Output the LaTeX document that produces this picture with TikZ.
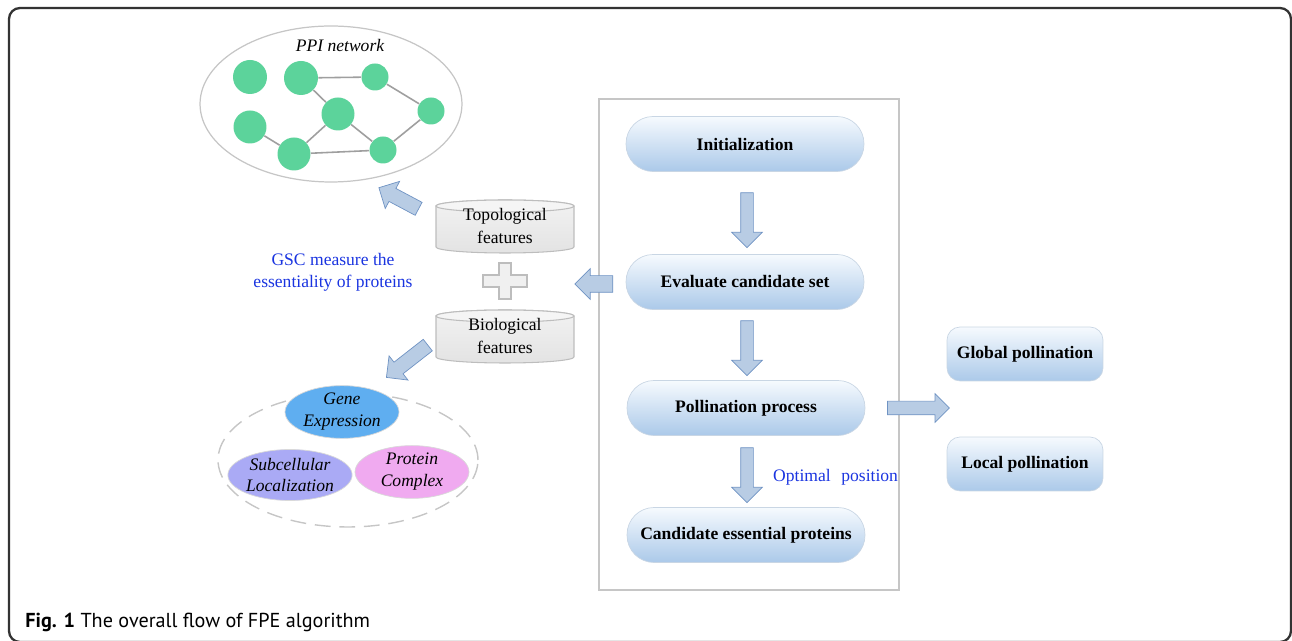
\documentclass[tikz,border=0pt]{standalone}
\usepackage{fontspec}
\setmainfont{Liberation Serif}
\newfontfamily\capfont{PT Sans}
\usetikzlibrary{shapes.geometric,shapes.arrows,calc}
\definecolor{ppigreen}{HTML}{5CD39B}
\definecolor{arrowfill}{HTML}{B8CCE4}
\definecolor{arrowborder}{HTML}{6F93C3}
\definecolor{pilltop}{HTML}{F6FAFE}
\definecolor{pillbot}{HTML}{ABC9E9}
\definecolor{pillborder}{HTML}{C9D6E4}
\definecolor{bluetext}{HTML}{1A34E0}
\definecolor{geneblue}{HTML}{5FAEF0}
\definecolor{subcell}{HTML}{AAAAF5}
\definecolor{protpink}{HTML}{F0AAF0}
\definecolor{cylfill}{HTML}{E4E4E4}
\definecolor{cylborder}{HTML}{BDBDBD}
\tikzset{
  pill/.style={rounded corners=0.54cm, minimum width=4.76cm, minimum height=1.1cm,
    top color=pilltop, bottom color=pillbot, draw=pillborder, font=\bfseries\fontsize{10}{12}\selectfont},
  gbox/.style={rounded corners=0.26cm, minimum width=3.12cm, minimum height=1.08cm,
    top color=pilltop, bottom color=pillbot, draw=pillborder, font=\bfseries\fontsize{10}{12}\selectfont},
  barrow/.style={single arrow, draw=arrowborder, fill=arrowfill, inner xsep=0pt,
    single arrow tip angle=90},
  vbar/.style={barrow, inner ysep=0.12cm, single arrow head extend=0.18cm, minimum height=1.1cm},
  ppin/.style={circle, fill=ppigreen, inner sep=0pt},
  ppie/.style={draw=gray!75, line width=0.9pt},
  cyl/.style={draw=cylborder, top color=gray!10, bottom color=gray!22, line width=0.6pt},
  cyltext/.style={align=center, font=\fontsize{10}{13}\selectfont},
  oval/.style={ellipse, inner sep=0pt, minimum width=2.28cm, minimum height=1.02cm, align=center,
    font=\itshape\fontsize{10}{12.5}\selectfont, draw=white!70!gray},
  bluelbl/.style={text=bluetext, align=center, font=\fontsize{10}{12.5}\selectfont}
}
\begin{document}
\begin{tikzpicture}[x=0.02cm,y=-0.02cm]
\useasboundingbox (0,0) rectangle (1292,641);
\clip (0,0) rectangle (1292,641);
% outer frame
\draw[line width=1.3pt, black!80, rounded corners=0.22cm] (9,8) rectangle (1291,642);

% PPI network
\draw[draw=gray!45, fill=white, line width=0.7pt] (331,104) ellipse [x radius=2.62cm, y radius=1.56cm];
\node[font=\itshape\fontsize{10}{12}\selectfont] (ppilbl) at (340,45) {PPI network};
\node[ppin, minimum size=0.68cm] (n1) at (250,77) {};
\node[ppin, minimum size=0.68cm] (n2) at (301,78) {};
\node[ppin, minimum size=0.54cm] (n3) at (375,77) {};
\node[ppin, minimum size=0.66cm] (n4) at (338,114) {};
\node[ppin, minimum size=0.54cm] (n5) at (431,111) {};
\node[ppin, minimum size=0.66cm] (n6) at (250,127) {};
\node[ppin, minimum size=0.66cm] (n7) at (294,154) {};
\node[ppin, minimum size=0.54cm] (n8) at (383,150) {};
\draw[ppie] (n2) -- (n3);
\draw[ppie] (n2) -- (n4);
\draw[ppie] (n3) -- (n5);
\draw[ppie] (n4) -- (n7);
\draw[ppie] (n4) -- (n8);
\draw[ppie] (n5) -- (n8);
\draw[ppie] (n6) -- (n7);
\draw[ppie] (n7) -- (n8);

% cylinders
\draw[cyl] (436,206) -- (436,247) arc[start angle=180,end angle=360,x radius=1.38cm,y radius=0.12cm]
  -- (574,206) arc[start angle=0,end angle=180,x radius=1.38cm,y radius=0.12cm] -- cycle;
\draw[draw=cylborder, fill=gray!8, line width=0.6pt] (505,206) ellipse [x radius=1.38cm, y radius=0.12cm];
\node[cyltext] (topo) at (505,226) {Topological\\features};

\draw[cyl] (436,316) -- (436,357) arc[start angle=180,end angle=360,x radius=1.38cm,y radius=0.12cm]
  -- (574,316) arc[start angle=0,end angle=180,x radius=1.38cm,y radius=0.12cm] -- cycle;
\draw[draw=cylborder, fill=gray!8, line width=0.6pt] (505,316) ellipse [x radius=1.38cm, y radius=0.12cm];
\node[cyltext] (bio) at (505,336) {Biological\\features};

% plus sign
\draw[draw=cylborder, fill=gray!12, line width=0.6pt]
  (499,263) -- (511,263) -- (511,275) -- (527,275) -- (527,287) -- (511,287) -- (511,299)
  -- (499,299) -- (499,287) -- (483,287) -- (483,275) -- (499,275) -- cycle;
\coordinate (plus) at (505,281);

% GSC text
\node[bluelbl] (gsc) at (333,272) {GSC measure the\\essentiality of proteins};

% diagonal arrows
\node[barrow, inner ysep=0.14cm, single arrow head extend=0.16cm, minimum height=0.9cm, rotate=152] (aup) at (402,200) {};
\node[barrow, inner ysep=0.14cm, single arrow head extend=0.16cm, minimum height=1.05cm, rotate=218] (adn) at (410,359) {};

% lower dashed ellipse
\draw[draw=gray!45, dash pattern=on 9pt off 5pt, line width=0.8pt] (348,460) ellipse [x radius=2.6cm, y radius=1.34cm];
\node[oval, fill=geneblue] (gene) at (342,412) {Gene\\Expression};
\node[oval, fill=subcell] (subc) at (290,475) {Subcellular\\Localization};
\node[oval, fill=protpink] (prot) at (412,472) {Protein\\Complex};

% process frame
\draw[draw=gray!45, line width=0.7pt] (599,99) rectangle (899,590);
\node[pill] (init) at (745,144) {Initialization};
\node[pill] (eval) at (745,282) {Evaluate candidate set};
\node[pill] (poll) at (746,408) {Pollination process};
\node[pill] (cand) at (746,535) {Candidate essential proteins};

\node[vbar, rotate=-90] (d1) at (747,217) {};
\node[vbar, rotate=-90] (d2) at (747,345) {};
\node[vbar, rotate=-90] (d3) at (747,472) {};
\node[bluelbl, anchor=west] (opt) at (767,477) {Optimal\hspace{0.6em}position};

% left arrow into plus
\node[barrow, inner ysep=0.16cm, single arrow head extend=0.14cm, minimum height=0.76cm, rotate=180] (al) at (598,284) {};

% right arrow
\node[barrow, inner ysep=0.13cm, single arrow head extend=0.15cm, minimum height=1.24cm] (ar) at (915,408) {};

\node[gbox] (glob) at (1025,354) {Global pollination};
\node[gbox] (loc) at (1025,464) {Local pollination};

% caption
\node[anchor=base west, inner sep=0pt, font=\capfont\fontsize{11.5}{14}\selectfont] (cap) at (25,628)
  {\textbf{Fig. 1} The overall flow of FPE algorithm};
\end{tikzpicture}
\end{document}
